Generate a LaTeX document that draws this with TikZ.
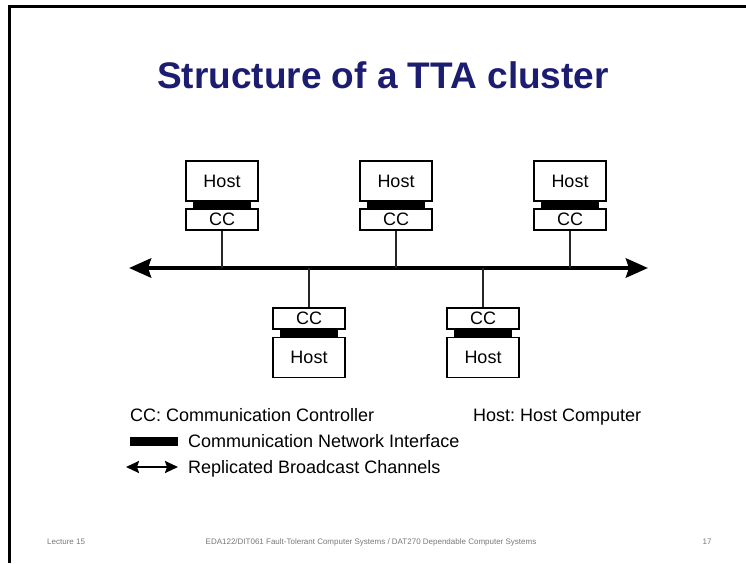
\documentclass[tikz,border=0pt]{standalone}
\usepackage{fontspec}
\setmainfont{Liberation Sans}
\usetikzlibrary{arrows.meta}
\definecolor{titleblue}{RGB}{28,28,112}
\definecolor{footgray}{RGB}{120,120,120}
\frenchspacing
\begin{document}
\begin{tikzpicture}[x=1pt,y=-1pt,
  hostbox/.style={draw,line width=1.2pt,minimum width=72pt,minimum height=40pt,inner sep=0pt,font=\fontsize{18}{20}\selectfont},
  ccbox/.style={draw,line width=1.2pt,minimum width=72pt,minimum height=21pt,inner sep=0pt,font=\fontsize{18}{20}\selectfont},
  netif/.style={fill=black,minimum width=58pt,minimum height=8pt,inner sep=0pt},
  tap/.style={line width=1.2pt,black!85},
  bus/.style={line width=4.5pt,{Stealth[length=22pt,width=19pt,inset=3pt]}-{Stealth[length=22pt,width=19pt,inset=3pt]}},
  legend/.style={anchor=base west,inner sep=0pt,font=\fontsize{18}{20}\selectfont},
  foot/.style={inner sep=0pt,text=footgray,font=\fontsize{8}{9}\selectfont}]
\useasboundingbox (0,0) rectangle (746,563);
% slide frame
\draw[line width=3pt] (9.5,563) -- (9.5,6.5) -- (746,6.5);
% title
\node[font=\bfseries\fontsize{37}{42}\selectfont,text=titleblue] (title) at (383,75) {Structure of a TTA cluster};

% bus
\coordinate (busL) at (129,268);
\coordinate (busR) at (648,268);
\draw[bus] (busL) -- (busR);

% upper stations: host above, controller below
\foreach \i/\x in {1/222,2/396,3/570}{
  \node[hostbox] (host\i) at (\x,181) {Host};
  \node[netif] (nif\i) at (\x,205) {};
  \node[ccbox] (cc\i) at (\x,219.5) {CC};
  \coordinate (tap\i) at (\x,268);
  \draw[tap] (cc\i.south) -- (tap\i);
}
% lower stations: controller above, host below
\foreach \i/\x in {4/309,5/483}{
  \node[ccbox] (cc\i) at (\x,318.5) {CC};
  \node[netif] (nif\i) at (\x,333) {};
  \node[hostbox] (host\i) at (\x,357.5) {Host};
  \coordinate (tap\i) at (\x,268);
  \draw[tap] (tap\i) -- (cc\i.north);
}

% legend
\node[legend] (lcc) at (130,421) {CC: Communication Controller};
\node[legend] (lhost) at (473,421) {Host: Host Computer};
\node[fill=black,minimum width=48pt,minimum height=9pt,inner sep=0pt] (lbar) at (154,441) {};
\node[legend] (lnif) at (188,447) {Communication Network Interface};
\coordinate (la) at (126,467);
\coordinate (lb) at (178,467);
\draw[line width=2.2pt,{Stealth[length=13pt,width=12pt,inset=2pt]}-{Stealth[length=13pt,width=12pt,inset=2pt]}] (la) -- (lb);
\node[legend] (lbus) at (188,473) {Replicated Broadcast Channels};

% footer
\node[foot,anchor=west] (f1) at (47,542) {Lecture 15};
\node[foot] (f2) at (371,542) {EDA122/DIT061 Fault-Tolerant Computer Systems / DAT270 Dependable Computer Systems};
\node[foot] (f3) at (707,542) {17};
\end{tikzpicture}
\end{document}
